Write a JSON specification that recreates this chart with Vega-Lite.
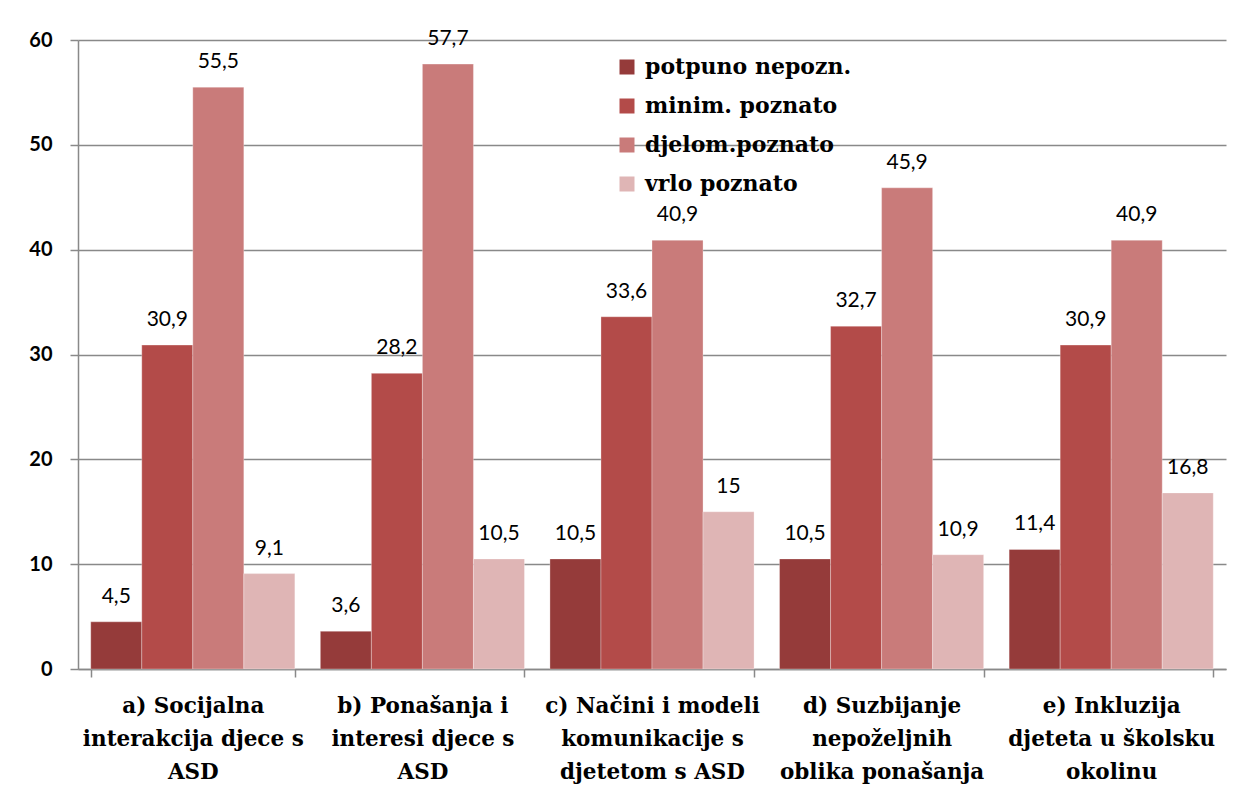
{
  "$schema": "https://vega.github.io/schema/vega-lite/v6.json",
  "width": 1148,
  "height": 629,
  "autosize": {"type": "none"},
  "padding": {"left": 78, "top": 40, "right": 18, "bottom": 143},
  "background": "white",
  "config": {
    "view": {"stroke": null},
    "locale": {"number": {"decimal": ",", "thousands": ".", "grouping": [3], "currency": ["", ""]}}
  },
  "data": {
    "values": [
      {"kategorija": "a) Socijalna\ninterakcija djece s\nASD", "odgovor": "potpuno nepozn.", "postotak": 4.5},
      {"kategorija": "a) Socijalna\ninterakcija djece s\nASD", "odgovor": "minim. poznato", "postotak": 30.9},
      {"kategorija": "a) Socijalna\ninterakcija djece s\nASD", "odgovor": "djelom.poznato", "postotak": 55.5},
      {"kategorija": "a) Socijalna\ninterakcija djece s\nASD", "odgovor": "vrlo poznato", "postotak": 9.1},
      {"kategorija": "b) Ponašanja i\ninteresi djece s\nASD", "odgovor": "potpuno nepozn.", "postotak": 3.6},
      {"kategorija": "b) Ponašanja i\ninteresi djece s\nASD", "odgovor": "minim. poznato", "postotak": 28.2},
      {"kategorija": "b) Ponašanja i\ninteresi djece s\nASD", "odgovor": "djelom.poznato", "postotak": 57.7},
      {"kategorija": "b) Ponašanja i\ninteresi djece s\nASD", "odgovor": "vrlo poznato", "postotak": 10.5},
      {"kategorija": "c) Načini i modeli\nkomunikacije s\ndjetetom s ASD", "odgovor": "potpuno nepozn.", "postotak": 10.5},
      {"kategorija": "c) Načini i modeli\nkomunikacije s\ndjetetom s ASD", "odgovor": "minim. poznato", "postotak": 33.6},
      {"kategorija": "c) Načini i modeli\nkomunikacije s\ndjetetom s ASD", "odgovor": "djelom.poznato", "postotak": 40.9},
      {"kategorija": "c) Načini i modeli\nkomunikacije s\ndjetetom s ASD", "odgovor": "vrlo poznato", "postotak": 15},
      {"kategorija": "d) Suzbijanje\nnepoželjnih\noblika ponašanja", "odgovor": "potpuno nepozn.", "postotak": 10.5},
      {"kategorija": "d) Suzbijanje\nnepoželjnih\noblika ponašanja", "odgovor": "minim. poznato", "postotak": 32.7},
      {"kategorija": "d) Suzbijanje\nnepoželjnih\noblika ponašanja", "odgovor": "djelom.poznato", "postotak": 45.9},
      {"kategorija": "d) Suzbijanje\nnepoželjnih\noblika ponašanja", "odgovor": "vrlo poznato", "postotak": 10.9},
      {"kategorija": "e) Inkluzija\ndjeteta u školsku\nokolinu", "odgovor": "potpuno nepozn.", "postotak": 11.4},
      {"kategorija": "e) Inkluzija\ndjeteta u školsku\nokolinu", "odgovor": "minim. poznato", "postotak": 30.9},
      {"kategorija": "e) Inkluzija\ndjeteta u školsku\nokolinu", "odgovor": "djelom.poznato", "postotak": 40.9},
      {"kategorija": "e) Inkluzija\ndjeteta u školsku\nokolinu", "odgovor": "vrlo poznato", "postotak": 16.8}
    ]
  },
  "encoding": {
    "x": {
      "field": "kategorija", "type": "nominal", "sort": null,
      "scale": {"paddingInner": 0.111, "paddingOuter": 0.0555},
      "axis": {
        "title": null, "labelAngle": 0, "labelExpr": "split(datum.label, '\\n')",
        "labelFont": "DejaVu Serif", "labelFontWeight": "bold", "labelFontSize": 21.5, "labelLimit": 400,
        "labelColor": "black", "labelLineHeight": 33, "labelPadding": 18, "labelBaseline": "top",
        "domainColor": "#898989", "domainWidth": 1.5, "tickColor": "#898989", "tickWidth": 1.5,
        "tickSize": 8, "tickBand": "extent", "grid": false
      }
    },
    "xOffset": {"field": "odgovor", "type": "nominal", "sort": ["potpuno nepozn.", "minim. poznato", "djelom.poznato", "vrlo poznato"]},
    "y": {
      "field": "postotak", "type": "quantitative",
      "scale": {"domain": [0, 60], "nice": false},
      "axis": {
        "title": null, "values": [0, 10, 20, 30, 40, 50, 60],
        "labelFont": "Lato", "labelFontWeight": "bold", "labelFontSize": 20,
        "labelColor": "black", "labelPadding": 18,
        "domainColor": "#898989", "domainWidth": 1.5, "tickColor": "#898989", "tickWidth": 1.5, "tickSize": 8,
        "grid": true, "gridColor": "#898989", "gridWidth": 1.5
      }
    }
  },
  "layer": [
    {
      "mark": {"type": "bar", "stroke": "#ffffff", "strokeWidth": 0.6, "strokeOpacity": 0.5},
      "encoding": {
        "color": {
          "field": "odgovor", "type": "nominal",
          "sort": ["potpuno nepozn.", "minim. poznato", "djelom.poznato", "vrlo poznato"],
          "scale": {"domain": ["potpuno nepozn.", "minim. poznato", "djelom.poznato", "vrlo poznato"], "range": ["#953b3a", "#b34b49", "#c97b7a", "#dfb5b5"]},
          "legend": {
            "title": null, "orient": "none", "legendX": 538, "legendY": 16,
            "symbolType": "square", "symbolSize": 225, "symbolStrokeWidth": 0, "symbolOpacity": 1,
            "labelFont": "DejaVu Serif", "labelFontWeight": "bold", "labelFontSize": 22, "labelColor": "black",
            "labelOffset": 7, "rowPadding": 17, "labelLimit": 400
          }
        }
      }
    },
    {
      "mark": {"type": "text", "font": "Lato", "fontSize": 21, "color": "black", "baseline": "middle", "dy": -25},
      "encoding": {
        "text": {"field": "postotak", "type": "quantitative", "format": ".1~f"}
      }
    }
  ]
}
